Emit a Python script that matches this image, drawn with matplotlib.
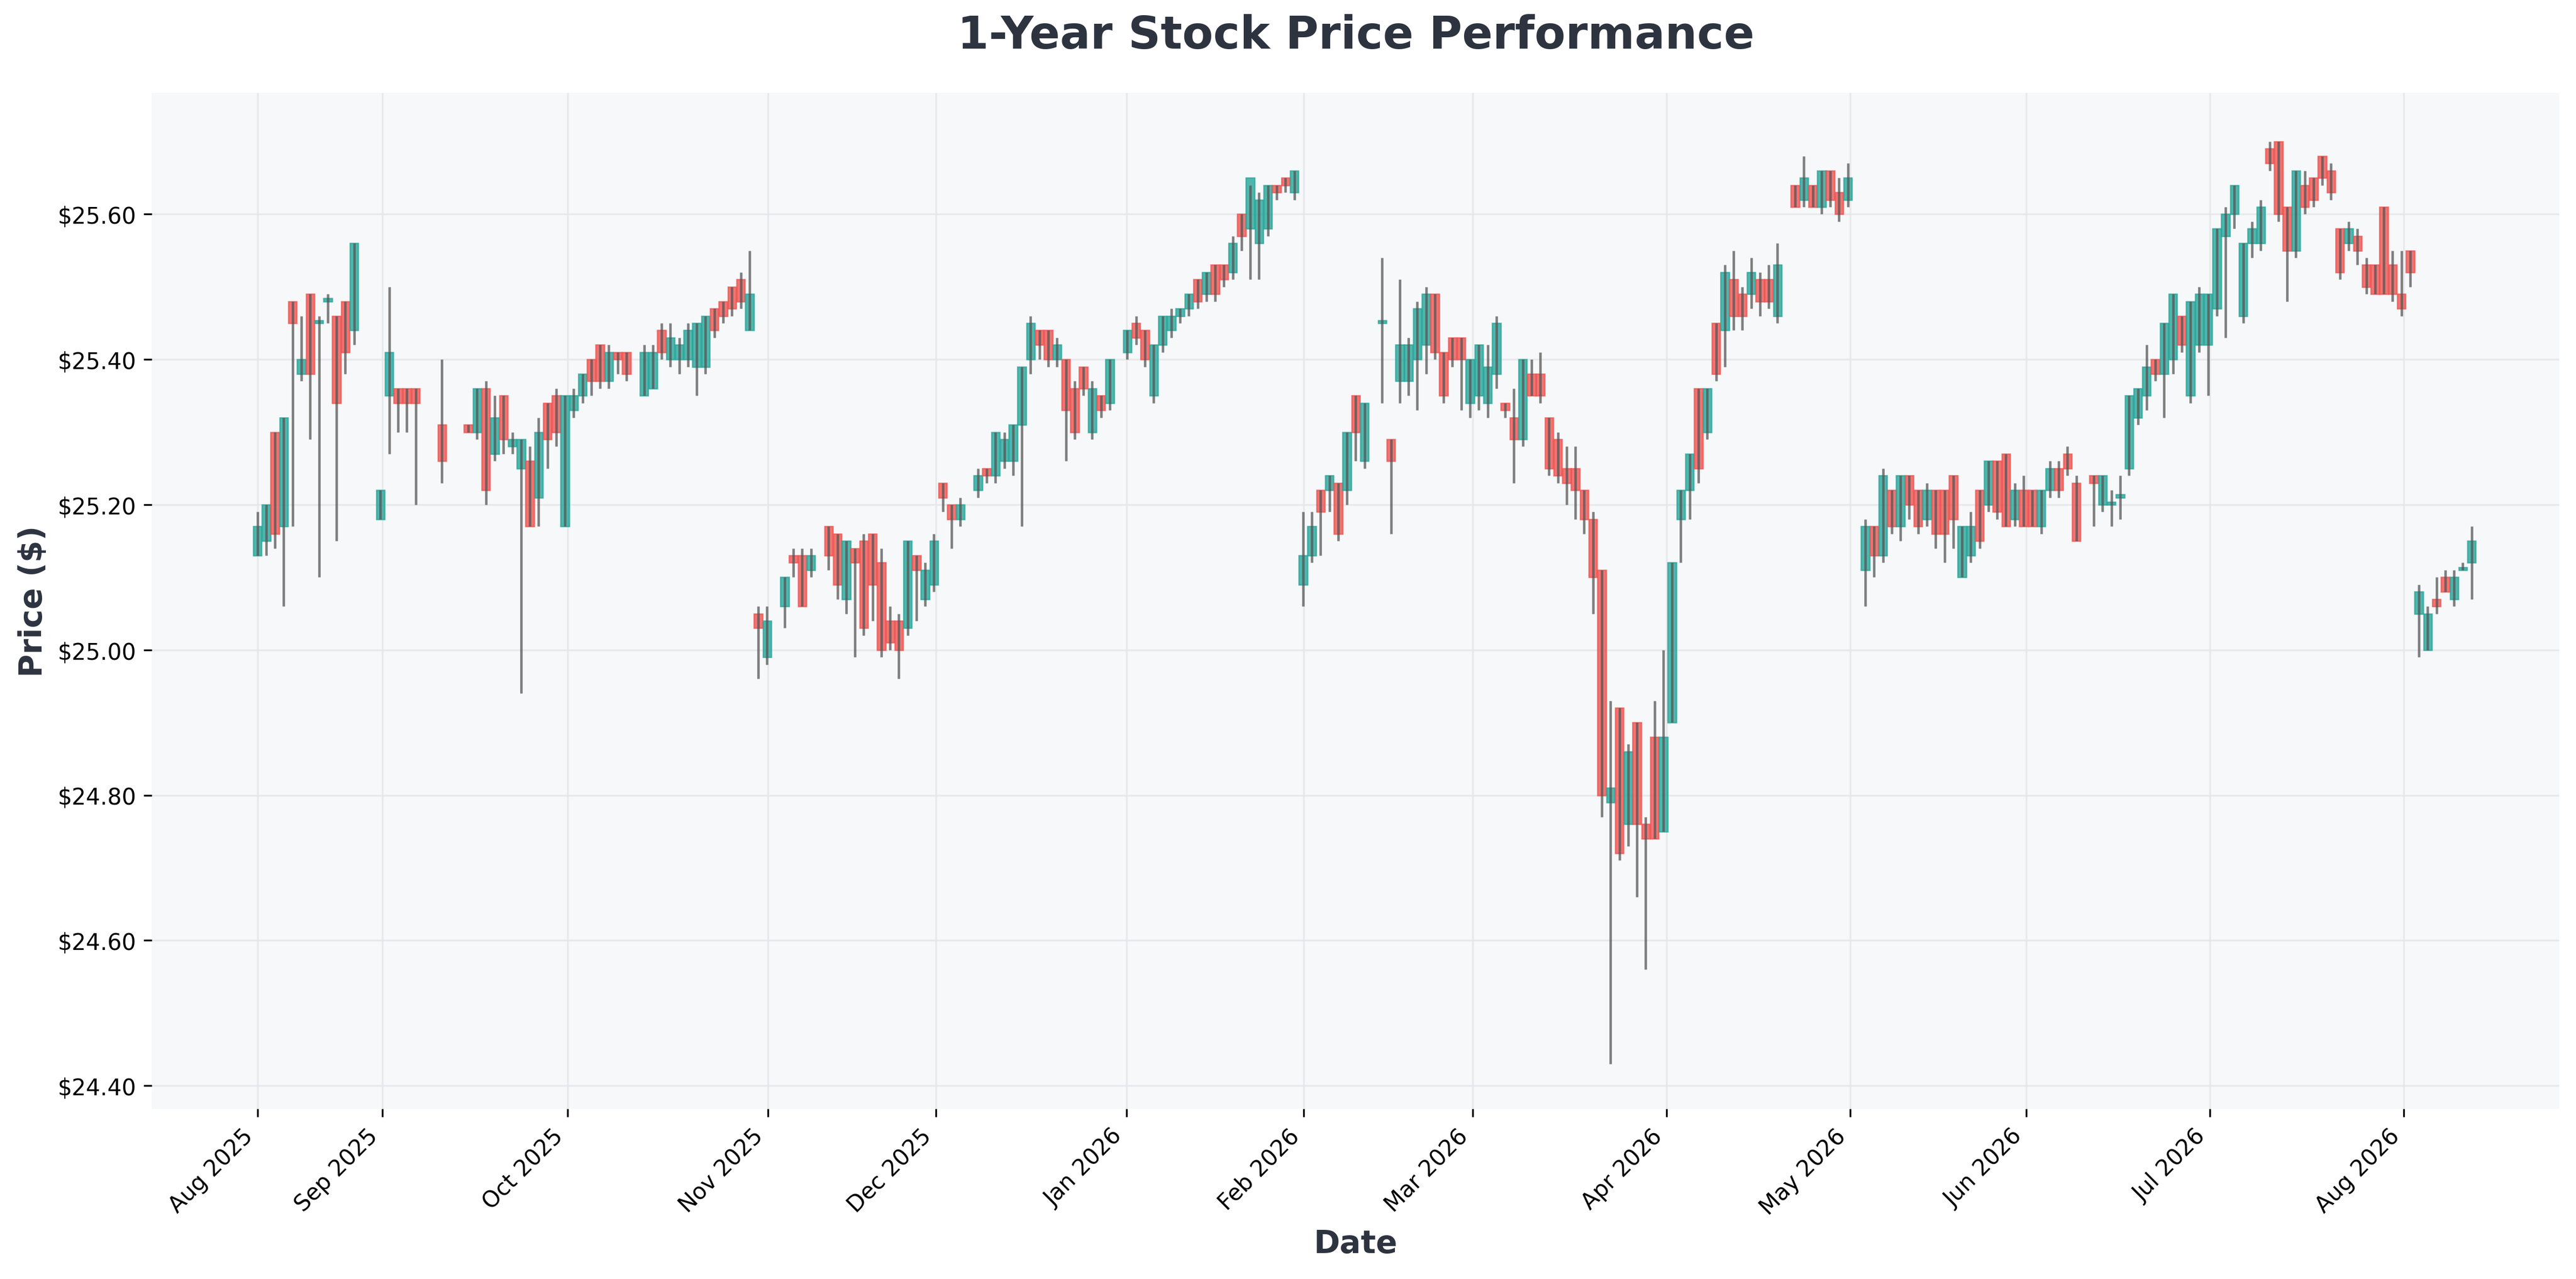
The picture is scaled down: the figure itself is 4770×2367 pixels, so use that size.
import matplotlib
matplotlib.use("Agg")
import matplotlib.pyplot as plt
from matplotlib.patches import Rectangle
from matplotlib.ticker import FuncFormatter

# trading slot index, open, close, high, low
slot = [0,1,2,3,4,5,6,7,8,9,10,11,14,15,16,17,18,21,24,25,26,27,28,29,30,31,32,33,34,35,36,37,38,39,40,41,42,44,45,46,47,48,49,50,51,52,53,54,55,56,
        57,58,60,61,62,63,65,66,67,68,69,70,71,72,73,74,75,76,77,78,79,80,82,83,84,85,86,87,88,89,90,91,92,93,94,95,96,97,99,100,101,102,103,104,105,106,107,108,109,110,111,112,113,114,115,116,117,118,
        119,120,121,122,123,124,125,126,128,129,130,131,132,133,134,135,136,137,138,139,140,141,142,143,144,145,146,147,148,149,150,151,152,153,154,155,156,157,158,159,160,161,162,163,164,165,166,167,168,169,170,171,172,173,175,176,177,178,179,180,181,
        183,184,185,186,187,188,189,190,191,192,193,194,195,196,197,198,199,200,201,202,203,204,205,206,207,209,210,211,212,213,214,215,216,217,218,219,220,221,222,223,224,225,226,227,228,229,230,231,232,233,234,235,236,237,238,239,240,241,242,243,244,245,
        246,247,248,249,250,251,252]
open_ = [25.13,25.15,25.30,25.17,25.48,25.38,25.49,25.45,25.48,25.46,25.48,25.44,25.18,25.35,25.36,25.36,25.36,25.31,25.31,25.30,25.36,25.27,25.35,25.28,25.25,25.26,25.21,25.34,25.35,25.17,25.33,25.35,25.40,25.42,25.37,25.41,25.41,25.35,25.36,25.44,25.40,25.40,25.40,25.39,25.39,25.47,25.48,25.50,25.51,25.44,
         25.05,24.99,25.06,25.13,25.13,25.11,25.17,25.16,25.07,25.14,25.15,25.16,25.12,25.04,25.04,25.03,25.13,25.07,25.09,25.23,25.20,25.18,25.22,25.25,25.24,25.26,25.26,25.31,25.40,25.44,25.44,25.40,25.40,25.36,25.39,25.30,25.35,25.34,25.41,25.45,25.44,25.35,25.42,25.44,25.46,25.47,25.51,25.49,25.53,25.53,25.52,25.60,25.58,25.56,25.58,25.64,25.65,25.63,
         25.09,25.13,25.22,25.22,25.23,25.22,25.35,25.26,25.45,25.29,25.37,25.37,25.40,25.42,25.49,25.41,25.43,25.43,25.34,25.35,25.34,25.38,25.34,25.32,25.29,25.38,25.38,25.32,25.29,25.25,25.25,25.22,25.18,25.11,24.79,24.92,24.76,24.90,24.76,24.88,24.75,24.90,25.18,25.22,25.36,25.30,25.45,25.44,25.51,25.49,25.49,25.51,25.51,25.46,25.64,25.62,25.64,25.61,25.66,25.63,25.62,
         25.11,25.17,25.13,25.22,25.17,25.24,25.22,25.18,25.22,25.22,25.24,25.10,25.13,25.22,25.20,25.26,25.27,25.18,25.22,25.22,25.17,25.22,25.25,25.27,25.23,25.24,25.20,25.20,25.21,25.25,25.32,25.35,25.40,25.38,25.40,25.46,25.35,25.42,25.42,25.47,25.57,25.60,25.46,25.56,25.56,25.69,25.70,25.61,25.55,25.64,25.65,25.68,25.66,25.58,25.56,25.57,25.53,25.53,25.61,25.53,25.49,25.55,
         25.05,25.00,25.07,25.10,25.07,25.11,25.12]
close = [25.17,25.20,25.16,25.32,25.45,25.40,25.38,25.45,25.48,25.34,25.41,25.56,25.22,25.41,25.34,25.34,25.34,25.26,25.30,25.36,25.22,25.32,25.29,25.29,25.29,25.17,25.30,25.29,25.30,25.35,25.35,25.38,25.37,25.37,25.41,25.40,25.38,25.41,25.41,25.41,25.43,25.42,25.44,25.45,25.46,25.44,25.46,25.47,25.48,25.49,
         25.03,25.04,25.10,25.12,25.06,25.13,25.13,25.09,25.15,25.12,25.03,25.09,25.00,25.01,25.00,25.15,25.11,25.11,25.15,25.21,25.18,25.20,25.24,25.24,25.30,25.29,25.31,25.39,25.45,25.42,25.40,25.42,25.33,25.30,25.36,25.36,25.33,25.40,25.44,25.43,25.40,25.42,25.46,25.46,25.47,25.49,25.48,25.52,25.49,25.51,25.56,25.57,25.65,25.62,25.64,25.63,25.64,25.66,
         25.13,25.17,25.19,25.24,25.16,25.30,25.30,25.34,25.45,25.26,25.42,25.42,25.47,25.49,25.41,25.35,25.40,25.40,25.40,25.42,25.39,25.45,25.33,25.29,25.40,25.35,25.35,25.25,25.24,25.23,25.22,25.18,25.10,24.80,24.81,24.72,24.86,24.76,24.74,24.74,24.88,25.12,25.22,25.27,25.25,25.36,25.38,25.52,25.46,25.46,25.52,25.48,25.48,25.53,25.61,25.65,25.61,25.66,25.62,25.60,25.65,
         25.17,25.13,25.24,25.17,25.24,25.20,25.17,25.22,25.16,25.16,25.18,25.17,25.17,25.15,25.26,25.19,25.17,25.22,25.17,25.17,25.22,25.25,25.22,25.25,25.15,25.23,25.24,25.20,25.21,25.35,25.36,25.39,25.38,25.45,25.49,25.42,25.48,25.49,25.49,25.58,25.60,25.64,25.56,25.58,25.61,25.67,25.60,25.55,25.66,25.61,25.62,25.65,25.63,25.52,25.58,25.55,25.50,25.49,25.49,25.49,25.47,25.52,
         25.08,25.05,25.06,25.08,25.10,25.11,25.15]
high = [25.19,25.20,25.30,25.32,25.48,25.46,25.49,25.46,25.49,25.46,25.48,25.56,25.22,25.50,25.36,25.36,25.36,25.40,25.31,25.36,25.37,25.35,25.35,25.30,25.29,25.28,25.32,25.34,25.36,25.35,25.36,25.38,25.40,25.42,25.42,25.41,25.41,25.42,25.42,25.45,25.45,25.43,25.45,25.45,25.46,25.47,25.48,25.50,25.52,25.55,
        25.06,25.06,25.10,25.14,25.14,25.14,25.17,25.16,25.15,25.14,25.16,25.16,25.14,25.06,25.05,25.15,25.13,25.12,25.16,25.23,25.20,25.21,25.25,25.25,25.30,25.30,25.31,25.39,25.46,25.44,25.44,25.43,25.40,25.37,25.39,25.37,25.35,25.40,25.44,25.46,25.44,25.42,25.46,25.47,25.47,25.49,25.51,25.52,25.53,25.53,25.57,25.60,25.64,25.63,25.64,25.64,25.65,25.66,
        25.19,25.19,25.22,25.24,25.23,25.30,25.35,25.34,25.54,25.29,25.51,25.43,25.48,25.50,25.49,25.41,25.43,25.43,25.40,25.42,25.42,25.46,25.34,25.36,25.40,25.40,25.41,25.32,25.30,25.28,25.28,25.22,25.19,25.11,24.93,24.92,24.87,24.90,24.77,24.93,25.00,25.12,25.22,25.27,25.36,25.36,25.45,25.53,25.55,25.50,25.54,25.52,25.53,25.56,25.64,25.68,25.64,25.66,25.66,25.65,25.67,
        25.18,25.17,25.25,25.22,25.24,25.24,25.22,25.23,25.22,25.22,25.24,25.17,25.19,25.22,25.26,25.26,25.27,25.23,25.24,25.22,25.22,25.26,25.26,25.28,25.24,25.24,25.24,25.22,25.24,25.35,25.36,25.42,25.40,25.45,25.49,25.46,25.48,25.50,25.49,25.58,25.61,25.64,25.56,25.59,25.62,25.70,25.70,25.61,25.66,25.66,25.65,25.68,25.67,25.58,25.59,25.58,25.54,25.53,25.61,25.55,25.55,25.55,
        25.09,25.06,25.10,25.11,25.11,25.12,25.17]
low = [25.13,25.13,25.14,25.06,25.17,25.37,25.29,25.10,25.45,25.15,25.38,25.42,25.18,25.27,25.30,25.30,25.20,25.23,25.30,25.29,25.20,25.26,25.27,25.27,24.94,25.17,25.17,25.25,25.28,25.17,25.32,25.34,25.35,25.36,25.36,25.38,25.37,25.35,25.36,25.40,25.39,25.38,25.39,25.35,25.38,25.43,25.45,25.46,25.47,25.44,
       24.96,24.98,25.03,25.10,25.06,25.10,25.11,25.07,25.05,24.99,25.02,25.04,24.99,25.00,24.96,25.02,25.04,25.06,25.08,25.19,25.14,25.17,25.21,25.23,25.23,25.25,25.24,25.17,25.38,25.40,25.39,25.39,25.26,25.29,25.35,25.29,25.32,25.33,25.40,25.42,25.39,25.34,25.41,25.43,25.45,25.46,25.47,25.48,25.48,25.50,25.51,25.55,25.51,25.51,25.57,25.62,25.63,25.62,
       25.06,25.12,25.13,25.19,25.15,25.20,25.26,25.25,25.34,25.16,25.34,25.35,25.33,25.38,25.40,25.34,25.39,25.33,25.32,25.33,25.32,25.36,25.32,25.23,25.28,25.35,25.34,25.24,25.23,25.20,25.18,25.16,25.05,24.77,24.43,24.71,24.73,24.66,24.56,24.74,24.75,24.90,25.12,25.18,25.23,25.29,25.37,25.39,25.44,25.44,25.47,25.46,25.47,25.45,25.61,25.61,25.61,25.60,25.61,25.59,25.61,
       25.06,25.10,25.12,25.16,25.15,25.18,25.16,25.17,25.14,25.12,25.14,25.10,25.12,25.14,25.19,25.18,25.17,25.17,25.17,25.17,25.16,25.21,25.21,25.24,25.15,25.17,25.19,25.17,25.18,25.24,25.31,25.33,25.37,25.32,25.38,25.41,25.34,25.41,25.35,25.46,25.43,25.58,25.45,25.54,25.55,25.66,25.59,25.48,25.54,25.60,25.61,25.64,25.62,25.51,25.55,25.53,25.49,25.49,25.49,25.48,25.46,25.50,
       24.99,25.00,25.05,25.08,25.06,25.11,25.07]

tick_slots = [0, 14.2, 35.3, 58.1, 77.2, 98.9, 119.1, 138.3, 160.4, 181.3, 201.3, 222.2, 244.3]
tick_labels = ["Aug 2025", "Sep 2025", "Oct 2025", "Nov 2025", "Dec 2025", "Jan 2026", "Feb 2026",
               "Mar 2026", "Apr 2026", "May 2026", "Jun 2026", "Jul 2026", "Aug 2026"]

UP, DOWN = "#26a69a", "#ef5350"

fig = plt.figure(figsize=(15.9, 7.893), dpi=300)
ax = fig.add_axes([0.059, 0.133, 0.9346, 0.794])
ax.set_facecolor("#f7f8fa")
ax.grid(True, color="#e4e6ea", linewidth=0.8, alpha=0.8)
ax.set_axisbelow(True)

w = 0.95
for s, o, c, h, l in zip(slot, open_, close, high, low):
    col = UP if c >= o else DOWN
    lo, hi = min(o, c), max(o, c)
    ax.add_patch(Rectangle((s - w / 2, lo), w, max(hi - lo, 0.004), facecolor=col,
                           edgecolor=col, linewidth=0.6, alpha=0.8, zorder=2))
    ax.vlines(s, l, h, color="#555555", linewidth=1.1, alpha=0.75, zorder=3)

ax.set_xlim(-12, 262)
ax.set_ylim(24.368, 25.767)
ax.set_yticks([24.4, 24.6, 24.8, 25.0, 25.2, 25.4, 25.6])
ax.yaxis.set_major_formatter(FuncFormatter(lambda v, p: f"${v:.2f}"))
ax.set_xticks(tick_slots)
ax.set_xticklabels(tick_labels, rotation=45, ha="right", fontsize=10)
ax.tick_params(axis="y", labelsize=10)
for sp in ax.spines.values():
    sp.set_visible(False)

tc = "#2d3440"
ax.set_title("1-Year Stock Price Performance", fontsize=20, fontweight="bold", color=tc, pad=20)
ax.set_xlabel("Date", fontsize=14, fontweight="bold", color=tc)
ax.set_ylabel("Price ($)", fontsize=14, fontweight="bold", color=tc)

fig.savefig("out.png", dpi=300)
